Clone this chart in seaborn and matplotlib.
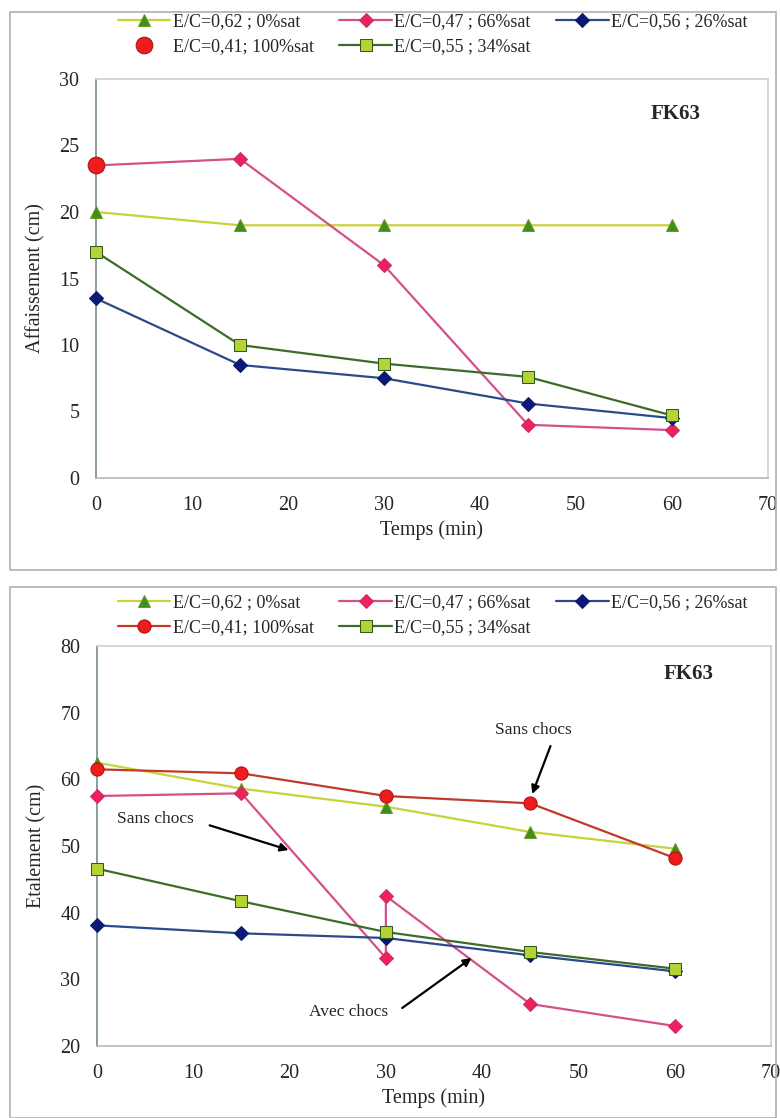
import numpy as np
import pandas as pd
import seaborn as sns
import matplotlib.pyplot as plt
from matplotlib.patches import Rectangle

# ---------------- data ----------------
time = [0, 15, 30, 45, 60]

# Top panel: Affaissement (cm)
aff_062_0 = [20, 19, 19, 19, 19]
aff_047_66 = [23.5, 24, 16, 4, 3.6]
aff_056_26 = [13.5, 8.5, 7.5, 5.6, 4.5]
aff_041_100_t = [0]
aff_041_100 = [23.5]
aff_055_34 = [17, 10, 8.6, 7.6, 4.7]

# Bottom panel: Etalement (cm)
eta_062_0 = [62.5, 58.6, 55.9, 52.1, 49.6]
eta_047_66_t = [0, 15, 30, 30, 45, 60]
eta_047_66 = [57.5, 57.9, 33.2, 42.5, 26.3, 23.0]
eta_056_26 = [38.1, 36.9, 36.2, 33.6, 31.2]
eta_041_100 = [61.5, 60.9, 57.5, 56.4, 48.2]
eta_055_34 = [46.6, 41.7, 37.1, 34.1, 31.6]

labels = ["E/C=0,62 ; 0%sat", "E/C=0,47 ; 66%sat", "E/C=0,56 ; 26%sat",
          "E/C=0,41; 100%sat", "E/C=0,55 ; 34%sat"]

# ---------------- style ----------------
sns.set_theme(style="white")
plt.rcParams['font.family'] = ['Liberation Serif', 'DejaVu Serif']

styles = {
    labels[0]: dict(color='#c8d23a', marker='^', markerfacecolor='#3f8f1f', markeredgecolor='#6a9a20', markersize=8.5, lw=1.6),
    labels[1]: dict(color='#d4508a', marker='D', markerfacecolor='#f0205a', markeredgecolor='#c03070', markersize=7, lw=1.6),
    labels[2]: dict(color='#2a4a8a', marker='D', markerfacecolor='#0a1a7a', markeredgecolor='#0a1a6a', markersize=7, lw=1.6),
    labels[3]: dict(color='#c0392b', marker='o', markerfacecolor='#ee1c1c', markeredgecolor='#b01010', markersize=9.5, lw=1.6),
    labels[4]: dict(color='#3d6b2a', marker='s', markerfacecolor='#b5d334', markeredgecolor='#2e5a1e', markersize=8, lw=1.6),
}

fig = plt.figure(figsize=(7.8, 11.18), dpi=100)

# panel frames
for (y0, y1) in [(12, 570), (587, 1118)]:
    fig.patches.append(Rectangle((10 / 780, 1 - y1 / 1118), 766 / 780, (y1 - y0) / 1118,
                                 transform=fig.transFigure, fill=False,
                                 edgecolor='#b0b0b0', lw=1.2))

ax1 = fig.add_axes([96 / 780, 1 - 478 / 1118, (768 - 96) / 780, (478 - 79) / 1118])
ax2 = fig.add_axes([97 / 780, 1 - 1046 / 1118, (771 - 97) / 780, (1046 - 646) / 1118])

def draw(ax, t, y, lab, **extra):
    st = dict(styles[lab])
    st.update(extra)
    sns.lineplot(x=t, y=y, ax=ax, estimator=None, sort=False, label=lab,
                 clip_on=False, zorder=3, **st)

# top
draw(ax1, time, aff_062_0, labels[0])
draw(ax1, time, aff_047_66, labels[1])
draw(ax1, time, aff_056_26, labels[2])
draw(ax1, time, aff_055_34, labels[4])
draw(ax1, aff_041_100_t, aff_041_100, labels[3], linestyle='none', markersize=12)

# bottom
draw(ax2, time, eta_062_0, labels[0])
draw(ax2, eta_047_66_t, eta_047_66, labels[1])
draw(ax2, time, eta_056_26, labels[2])
draw(ax2, time, eta_041_100, labels[3])
draw(ax2, time, eta_055_34, labels[4])

order = [labels[0], labels[3], labels[1], labels[4], labels[2]]

for ax, ylab, ylim, yt, legy in [
        (ax1, "Affaissement (cm)", (0, 30), np.arange(0, 31, 5), 1 - 34 / 1118),
        (ax2, "Etalement (cm)", (20, 80), np.arange(20, 81, 10), 1 - 615 / 1118)]:
    ax.set_xlim(0, 70)
    ax.set_ylim(*ylim)
    ax.set_xticks(np.arange(0, 71, 10))
    ax.set_yticks(yt)
    ax.set_xlabel("Temps (min)", fontsize=14.5, labelpad=4)
    ax.set_ylabel(ylab, fontsize=14.5, labelpad=10)
    ax.tick_params(axis='x', direction='inout', length=6, width=1, color='#909090',
                   labelsize=14.5, pad=10)
    ax.tick_params(axis='y', direction='out', length=4, width=1, color='#909090',
                   labelsize=14.5, pad=8)
    for s in ['top', 'right']:
        ax.spines[s].set_color('#d0d0d0')
        ax.spines[s].set_linewidth(1.2)
    ax.spines['left'].set_color('#7a8a8a')
    ax.spines['bottom'].set_color('#b8b8b8')
    for s in ['left', 'bottom']:
        ax.spines[s].set_linewidth(1.2)
    h, l = ax.get_legend_handles_labels()
    d = dict(zip(l, h))
    ax.get_legend().remove()
    fig.legend([d[k] for k in order], order, loc='center',
               bbox_to_anchor=(0.555, legy), ncol=3, frameon=False,
               fontsize=13, handlelength=2.9, handletextpad=0.15,
               columnspacing=1.4, labelspacing=0.45)

ax1.text(60.4, 27.4, "FK63", fontsize=15, fontweight='bold', ha='center', va='center')
ax2.text(61.4, 75.8, "FK63", fontsize=15, fontweight='bold', ha='center', va='center')

arrowprops = dict(arrowstyle='-|>', color='black', lw=1.6, mutation_scale=12,
                  shrinkA=0, shrinkB=0)
ax2.annotate("", xy=(45.2, 57.8), xytext=(47.1, 65.0), arrowprops=arrowprops)
ax2.text(45.3, 67.4, "Sans chocs", fontsize=12.5, ha='center', va='center')
ax2.annotate("", xy=(19.9, 49.4), xytext=(11.7, 53.1), arrowprops=arrowprops)
ax2.text(6.1, 54.0, "Sans chocs", fontsize=12.5, ha='center', va='center')
ax2.annotate("", xy=(38.9, 33.2), xytext=(31.7, 25.7), arrowprops=arrowprops)
ax2.text(26.1, 25.1, "Avec chocs", fontsize=12.5, ha='center', va='center')

fig.savefig("out.png", dpi=100)
